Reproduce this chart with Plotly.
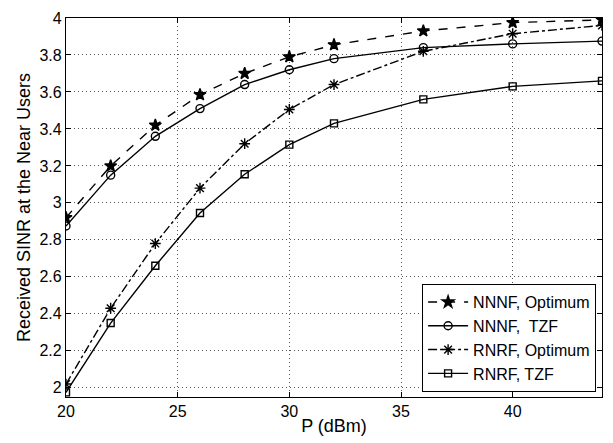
import plotly.graph_objects as go

P = [20, 22, 24, 26, 28, 30, 32, 36, 40, 44]
nnnf_opt = [2.92, 3.20, 3.42, 3.585, 3.70, 3.79, 3.855, 3.93, 3.975, 3.99]
nnnf_tzf = [2.875, 3.15, 3.36, 3.51, 3.64, 3.72, 3.78, 3.84, 3.86, 3.875]
rnrf_opt = [2.02, 2.43, 2.78, 3.08, 3.32, 3.505, 3.64, 3.82, 3.915, 3.96]
rnrf_tzf = [1.975, 2.35, 2.66, 2.945, 3.155, 3.315, 3.43, 3.56, 3.63, 3.66]

names = ["NNNF, Optimum", "NNNF,  TZF", "RNRF, Optimum", "RNRF, TZF"]
series = [nnnf_opt, nnnf_tzf, rnrf_opt, rnrf_tzf]
dashes = ["dash", "solid", "dashdot", "solid"]
symbols = ["star", "circle-open", "asterisk-open", "square-open"]
sizes = [9, 8, 9, 7]

fig = go.Figure()
for nm, ys, d, s, sz in zip(names, series, dashes, symbols, sizes):
    fig.add_trace(go.Scatter(
        x=P, y=ys, name=nm, mode="lines+markers",
        line=dict(color="black", width=1.4, dash=d),
        marker=dict(symbol=s, size=sz, color="black",
                    line=dict(color="black", width=1.4)),
    ))

axis_common = dict(
    showline=True, linecolor="black", linewidth=1.2, mirror="ticks",
    ticks="inside", ticklen=5, tickcolor="black",
    showgrid=True, gridcolor="#555", griddash="1px,3px", gridwidth=1,
    zeroline=False, tickfont=dict(family="Liberation Sans, Arial", size=16, color="black"),
)

fig.update_layout(
    width=613, height=443,
    margin=dict(l=66, r=10, t=11, b=42),
    paper_bgcolor="white", plot_bgcolor="white",
    font=dict(family="Liberation Sans, Arial", color="black"),
    xaxis=dict(range=[20, 44], tickvals=[20, 25, 30, 35, 40],
               title=dict(text="P (dBm)", font=dict(size=18), standoff=0),
               **axis_common),
    yaxis=dict(range=[1.95, 4.0], tickvals=[2, 2.2, 2.4, 2.6, 2.8, 3, 3.2, 3.4, 3.6, 3.8, 4],
               ticktext=["2", "2.2", "2.4", "2.6", "2.8", "3", "3.2", "3.4", "3.6", "3.8", "4"],
               title=dict(text="Received SINR at the Near Users", font=dict(size=18), standoff=4),
               **axis_common),
    legend=dict(x=0.989, y=0.013, xanchor="right", yanchor="bottom",
                bgcolor="white", bordercolor="black", borderwidth=1,
                font=dict(size=16, family="Liberation Sans, Arial"),
                itemwidth=40, tracegroupgap=0),
    showlegend=True,
)

fig.write_html("out.html")
